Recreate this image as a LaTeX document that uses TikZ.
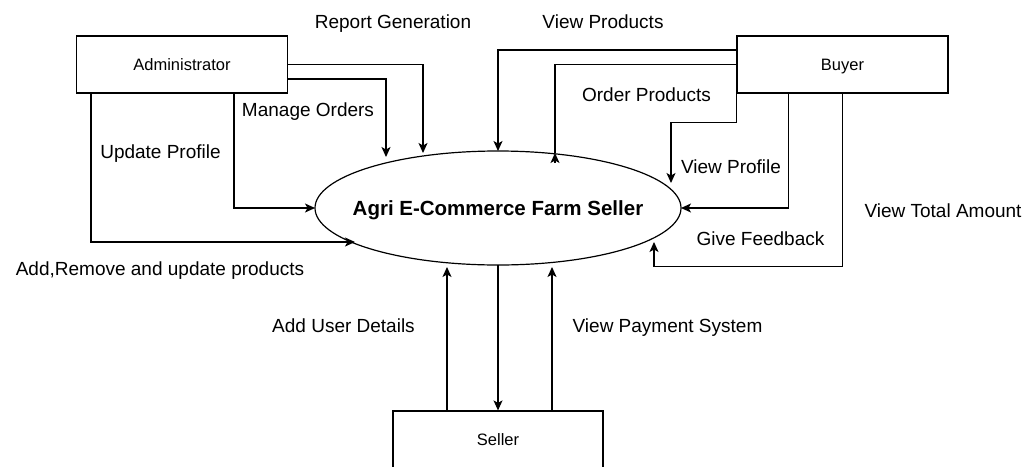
\documentclass[tikz,border=0pt]{standalone}
\usepackage{fontspec}
\setmainfont{Liberation Sans}
\usetikzlibrary{arrows.meta,shapes.geometric,calc}
\begin{document}
\begin{tikzpicture}[x=1pt,y=-1pt,
  line width=1.2pt,
  arr/.style={-{Stealth[length=10pt,width=9pt,inset=2.5pt]}},
  ent/.style={draw,rectangle,minimum width=211pt,minimum height=57pt,inner sep=0pt,
    font=\fontsize{16.5}{19}\selectfont,text depth=0pt},
  lbl/.style={anchor=base,inner sep=0pt,font=\fontsize{19}{22}\selectfont}]
\useasboundingbox (0,0) rectangle (1027,466);
\fill[white] (0,0) rectangle (1027,466);
\clip (0,0) rectangle (1027,466);

% entities
\node[ent] (adm) at (182,64.5) {Administrator};
\node[ent] (buy) at (842.5,64.5) {Buyer};
\node[ent,minimum width=210pt] (sel) at (498,439.5) {Seller};
\node[draw,ellipse,minimum width=366pt,minimum height=114pt,inner sep=0pt,outer sep=0pt] (ell) at (498,208) {};
\node[anchor=base,inner sep=0pt,font=\fontsize{20.5}{24}\selectfont\bfseries] (ttl) at (498,215)
  {Agri E-Commerce Farm Seller};

% targets on the process
\coordinate (rgT) at (423,153);
\coordinate (moT) at (386,157);
\coordinate (arT) at (355,242);
\coordinate (opT) at (555,153);
\coordinate (vfT) at (671,183);
\coordinate (vtT) at (654,242);
\coordinate (auT) at (447,267);
\coordinate (psT) at (552,267);

% administrator flows
\draw[arr] (adm.east) -| (rgT);
\draw[arr] ([yshift=-14.5pt]adm.east) -| (moT);
\draw[arr] ([xshift=158pt]adm.south west) |- (ell.west);
\draw[arr] ([xshift=15pt]adm.south west) |- (arT);

% buyer flows
\draw[arr] ([yshift=14.5pt]buy.west) -| (ell.north);
\draw (buy.west) -| (opT);
\draw[arr] ($(opT)+(0,10)$) -- (opT);
\draw[arr] (buy.south west) -- ++(0,29) -| (vfT);
\draw[arr] ([xshift=52pt]buy.south west) |- (ell.east);
\draw[arr] (buy.south) -- ++(0,173) -| (vtT);

% seller flows
\draw[arr] ([xshift=-51pt]sel.north) -- (auT);
\draw[arr] (ell.south) -- (sel.north);
\draw[arr] ([xshift=54pt]sel.north) -- (psT);

% labels
\node[lbl] (lrg) at (393,28) {Report Generation};
\node[lbl] (lvp) at (603,28) {View Products};
\node[lbl] (lmo) at (308,116) {Manage Orders};
\node[lbl] (lup) at (160.5,158) {Update Profile};
\node[lbl] (lar) at (160,275) {Add,Remove and update products};
\node[lbl] (lop) at (646.5,101) {Order Products};
\node[lbl] (lvf) at (731,173) {View Profile};
\node[lbl] (lvt) at (943,217) {View Total Amount};
\node[lbl] (lgf) at (760.5,245) {Give Feedback};
\node[lbl] (lau) at (343.5,332) {Add User Details};
\node[lbl] (lps) at (667.5,332) {View Payment System};
\end{tikzpicture}
\end{document}
